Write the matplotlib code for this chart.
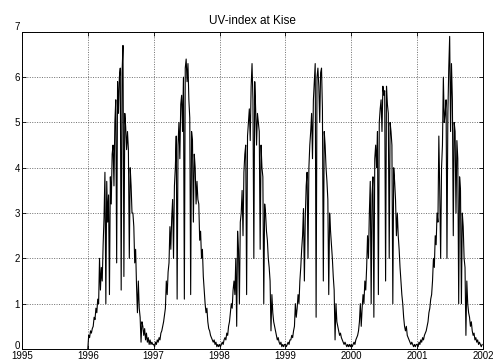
import numpy as np
import matplotlib
matplotlib.use("Agg")
import matplotlib.pyplot as plt
import matplotlib.transforms as mtransforms

# UV-index, one value per 5 days, one list per year
uv_1996 = [0.0, 0.3, 0.25, 0.4, 0.35, 0.45, 0.5, 0.7, 0.65, 0.9,
           0.8, 1.1, 1.0, 2.0, 1.3, 1.8, 1.5, 2.3, 2.9, 3.9,
           1.0, 3.7, 2.8, 3.4, 1.2, 3.8, 3.2, 4.3, 4.5, 3.6,
           5.0, 5.5, 1.9, 5.9, 5.2, 6.0, 6.2, 1.3, 6.1, 6.7,
           1.6, 5.2, 4.9, 4.4, 4.8, 4.4, 2.0, 4.0, 3.6, 3.0,
           3.0, 2.7, 1.9, 2.2, 1.4, 0.8, 1.5, 0.9, 0.7, 0.15,
           0.6, 0.5, 0.3, 0.45, 0.2, 0.35, 0.15, 0.25, 0.1, 0.2,
           0.1, 0.15, 0.1]
uv_1997 = [0.1, 0.05, 0.15, 0.1, 0.2, 0.15, 0.25, 0.2, 0.35, 0.4,
           0.5, 0.6, 0.75, 0.9, 1.5, 1.2, 1.7, 1.9, 2.7, 2.2,
           2.9, 3.3, 2.0, 3.6, 4.0, 4.7, 1.1, 4.5, 5.0, 4.2,
           5.4, 5.6, 4.8, 6.0, 1.1, 6.2, 6.4, 5.9, 6.3, 5.5,
           5.1, 1.2, 4.8, 4.6, 2.8, 4.3, 4.0, 3.2, 3.7, 3.3,
           3.2, 2.4, 2.6, 2.0, 2.2, 1.6, 1.3, 1.0, 0.8, 0.9,
           0.6, 0.45, 0.4, 0.3, 0.25, 0.2, 0.15, 0.2, 0.1, 0.15,
           0.05, 0.1, 0.05]
uv_1998 = [0.1, 0.05, 0.1, 0.15, 0.1, 0.2, 0.25, 0.2, 0.35, 0.3,
           0.5, 0.6, 0.8, 1.0, 0.9, 1.3, 1.5, 1.2, 2.0, 0.5,
           2.6, 2.2, 1.0, 2.8, 3.0, 3.5, 2.5, 3.9, 4.3, 4.5,
           1.2, 4.7, 5.0, 5.3, 4.6, 5.8, 6.3, 5.5, 2.0, 5.9,
           5.3, 4.5, 5.2, 5.0, 4.8, 2.2, 4.5, 4.0, 3.8, 1.0,
           3.2, 3.0, 2.6, 2.4, 2.0, 1.8, 1.5, 0.4, 1.2, 0.8,
           0.6, 0.5, 0.4, 0.3, 0.2, 0.25, 0.15, 0.1, 0.15, 0.05,
           0.1, 0.05, 0.1]
uv_1999 = [0.1, 0.05, 0.1, 0.15, 0.1, 0.2, 0.2, 0.3, 0.25, 0.4,
           0.5, 1.0, 0.7, 0.9, 1.2, 1.0, 1.5, 1.8, 2.2, 2.5,
           3.1, 1.5, 2.9, 3.6, 3.9, 2.0, 4.0, 4.5, 4.8, 5.2,
           4.2, 5.5, 5.9, 6.3, 0.7, 6.0, 6.2, 5.8, 5.0, 6.1,
           6.2, 5.3, 1.5, 4.8, 4.5, 4.0, 3.7, 3.3, 1.2, 3.0,
           2.6, 2.3, 2.0, 1.6, 1.3, 0.2, 1.0, 0.6, 0.5, 0.4,
           0.3, 0.35, 0.25, 0.2, 0.15, 0.1, 0.15, 0.1, 0.05, 0.1,
           0.05, 0.1, 0.05]
uv_2000 = [0.1, 0.05, 0.1, 0.15, 0.1, 0.2, 0.25, 0.3, 0.4, 0.6,
           1.0, 0.5, 0.9, 1.2, 1.0, 1.5, 1.3, 1.8, 2.5, 2.0,
           3.0, 3.7, 1.0, 3.4, 3.8, 0.7, 4.2, 4.5, 4.0, 4.8,
           1.2, 5.0, 5.3, 5.5, 4.8, 5.8, 5.6, 5.7, 1.5, 5.8,
           5.4, 5.2, 2.0, 5.0, 4.8, 4.5, 1.0, 4.0, 3.7, 3.3,
           2.5, 3.0, 2.5, 2.2, 1.8, 1.5, 1.2, 1.0, 0.7, 0.5,
           0.4, 0.5, 0.3, 0.25, 0.2, 0.15, 0.1, 0.15, 0.1, 0.05,
           0.1, 0.05, 0.1]
uv_2001 = [0.1, 0.05, 0.15, 0.1, 0.2, 0.15, 0.25, 0.2, 0.3, 0.35,
           0.4, 0.5, 0.6, 0.8, 0.9, 1.1, 1.2, 1.5, 2.0, 1.8,
           2.5, 2.3, 3.0, 2.8, 4.7, 3.5, 2.0, 4.0, 4.5, 6.0,
           5.0, 5.2, 5.5, 2.0, 5.2, 6.2, 6.9, 4.8, 6.3, 5.5,
           2.5, 5.0, 4.8, 3.0, 4.6, 4.2, 1.0, 3.8, 3.5, 1.0,
           3.0, 2.7, 2.0, 1.8, 0.3, 1.5, 1.0, 0.8, 0.7, 0.5,
           0.6, 0.4, 0.3, 0.35, 0.2, 0.25, 0.15, 0.2, 0.1, 0.15,
           0.1, 0.05, 0.1]

years = [1996, 1997, 1998, 1999, 2000, 2001]
series = [uv_1996, uv_1997, uv_1998, uv_1999, uv_2000, uv_2001]
step_days = 5

t = np.concatenate([yr + np.arange(len(v)) * step_days / 365.0
                    for yr, v in zip(years, series)])
uv = np.concatenate(series)

plt.rcParams['font.family'] = ['Liberation Sans', 'DejaVu Sans']

fig = plt.figure(figsize=(4.98, 3.62), dpi=100)
ax = fig.add_axes([0.044, 0.036, 0.926, 0.876])

ax.plot(t, uv, color='black', lw=0.8)

ax.set_xlim(1995, 2002)
ax.set_ylim(0, 7)
ax.set_xticks(range(1995, 2003))
ax.set_yticks(range(0, 8))
ax.tick_params(direction='in', length=3, width=0.6, labelsize=7, pad=1.5,
               top=True, right=True)
ax.grid(True, color='0.25', linestyle=(0, (1.5, 2)), lw=0.5)
for s in ax.spines.values():
    s.set_linewidth(0.7)
ax.set_title('UV-index at Kise', fontsize=8.5, pad=6)

# edge labels sit a bit above their ticks, as in the original
ylabels = ax.get_yticklabels()
ylabels[0].set_transform(ylabels[0].get_transform() +
                         mtransforms.ScaledTranslation(0, 3 / 72, fig.dpi_scale_trans))
ylabels[-1].set_transform(ylabels[-1].get_transform() +
                          mtransforms.ScaledTranslation(0, 4.5 / 72, fig.dpi_scale_trans))

fig.savefig('out.png', dpi=100)
